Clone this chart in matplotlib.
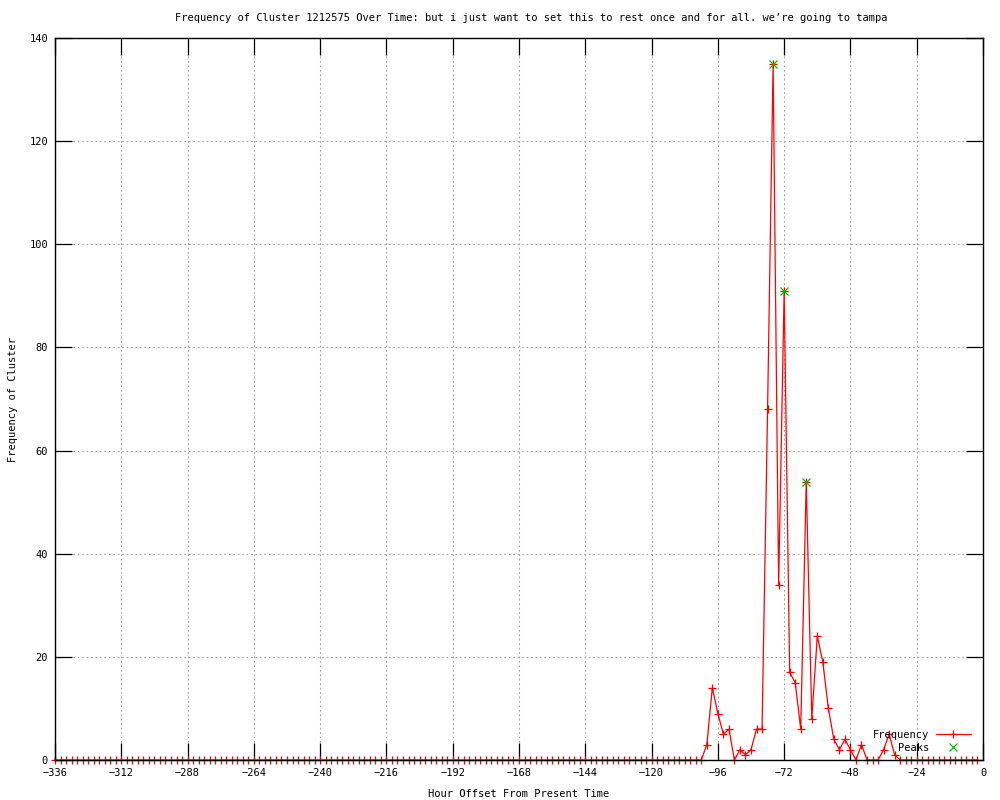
import numpy as np
import matplotlib
matplotlib.use("Agg")
from matplotlib import pyplot as plt

# hourly offsets (every 2 hours) and the counts
hours = list(range(-336, 0, 2))
active_hours = [-100, -98, -96, -94, -92, -90, -88, -86, -84, -82, -80, -78, -76, -74,
                -72, -70, -68, -66, -64, -62, -60, -58, -56, -54, -52, -50, -48, -46,
                -44, -42, -40, -38, -36, -34, -32]
active_counts = [3, 14, 9, 5, 6, 0, 2, 1, 2, 6, 6, 68, 135, 34,
                 91, 17, 15, 6, 54, 8, 24, 19, 10, 4, 2, 4, 2, 0,
                 3, 0, 0, 0, 2, 5, 1]
peak_hours = [-76, -72, -64]
peak_counts = [135, 91, 54]
x_ticks = list(range(-336, 1, 24))
y_ticks = list(range(0, 141, 20))
title = "Frequency of Cluster 1212575 Over Time: but i just want to set this to rest once and for all. we\u2019re going to tampa"

lookup = dict(zip(active_hours, active_counts))
freq = [lookup.get(h, 0) for h in hours]

fs = 7.5
plt.rcParams['font.family'] = ['DejaVu Sans Mono']
plt.rcParams['font.size'] = fs

fig = plt.figure(figsize=(10, 8), dpi=100)
ax = fig.add_axes([0.055, 0.05, 0.928, 0.9025])

ax.plot(hours, freq, color="#ff0000", lw=0.9, marker="+", ms=6, mew=0.9,
        label="Frequency", zorder=3, clip_on=False)
# leading spaces right-align the label in the monospaced key
ax.plot(peak_hours, peak_counts, ls="none", color="#00c000", marker="x", ms=5.5,
        mew=0.9, label="    Peaks", zorder=4, clip_on=False)

ax.set_xlim(-336, 0)
ax.set_ylim(0, 140)
ax.set_xticks(x_ticks)
ax.set_yticks(y_ticks)
ax.grid(True, color="#a0a0a0", lw=0.8, ls=(0, (1.5, 2.5)))
ax.tick_params(direction="in", length=12, width=0.9, top=True, right=True,
               labelsize=fs)
ax.tick_params(axis="x", pad=6)
ax.tick_params(axis="y", pad=5)
for s in ax.spines.values():
    s.set_linewidth(1.0)
    s.set_zorder(5)

# gnuplot centres the title on the canvas, slightly right of the plot centre
fig.text(0.531, 0.978, title, ha="center", va="center", fontsize=fs)
ax.set_xlabel("Hour Offset From Present Time", fontsize=fs, labelpad=8)
ax.set_ylabel("Frequency of Cluster", fontsize=fs, labelpad=8)

ax.legend(loc="lower right", bbox_to_anchor=(0.995, 0.0), markerfirst=False,
          frameon=False, handlelength=3.4, handletextpad=0.6, labelspacing=0.3,
          borderpad=0.2, fontsize=fs)

fig.savefig("out.png", dpi=100)
